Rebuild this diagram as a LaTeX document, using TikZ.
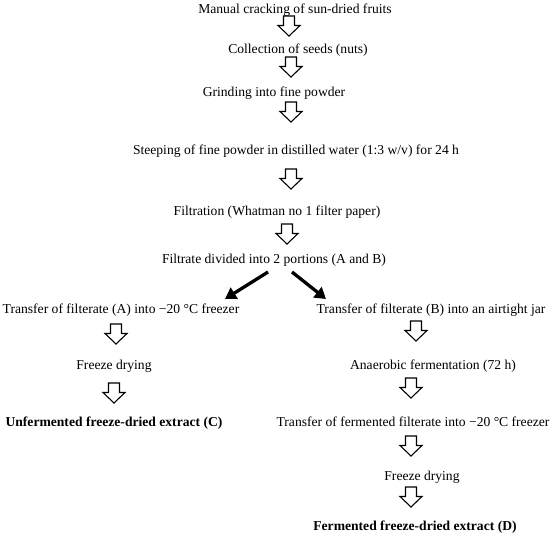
\documentclass[tikz,border=0pt]{standalone}
\usepackage{fontspec}
\setmainfont{Liberation Serif}
\usetikzlibrary{arrows.meta}
\tikzset{
  txt/.style={inner sep=0pt, anchor=base, font=\fontsize{13.6}{15}\selectfont},
  btxt/.style={txt, font=\fontsize{13.6}{15}\selectfont\bfseries},
  harrow/.pic={\draw[line width=1.1pt, line join=miter, fill=white]
     (-5.5,0) -- (5.5,0) -- (5.5,9.5) -- (11,9.5) -- (0,20) -- (-11,9.5) -- (-5.5,9.5) -- cycle;},
  blk/.style={line width=3.3pt, -{Triangle[length=11pt,width=13pt]}}
}
\begin{document}
\begin{tikzpicture}[x=1pt,y=-1pt]
\useasboundingbox (0,0) rectangle (550,538);
% text nodes
\node[txt] (t1) at (295,13.5) {Manual cracking of sun-dried fruits};
\node[txt] (t2) at (298,53.5) {Collection of seeds (nuts)};
\node[txt] (t3) at (274,96.5) {Grinding into fine powder};
\node[txt] (t4) at (296,154.5) {Steeping of fine powder in distilled water (1:3 w/v) for 24 h};
\node[txt] (t5) at (277,215.5) {Filtration (Whatman no 1 filter paper)};
\node[txt] (t6) at (274,263.5) {Filtrate divided into 2 portions (A and B)};
\node[txt] (t7l) at (121,313.5) {Transfer of filterate (A) into −20 °C freezer};
\node[txt] (t7r) at (431,313.5) {Transfer of filterate (B) into an airtight jar};
\node[txt] (t8l) at (114,369.5) {Freeze drying};
\node[txt] (t8r) at (433,369.5) {Anaerobic fermentation (72 h)};
\node[btxt] (t9l) at (114,426.5) {Unfermented freeze-dried extract (C)};
\node[txt] (t9r) at (413,426.5) {Transfer of fermented filterate into −20 °C freezer};
\node[txt] (t10) at (422,480.5) {Freeze drying};
\node[btxt] (t11) at (415,530.5) {Fermented freeze-dried extract (D)};
% hollow block arrows
\pic at (289,16) {harrow};
\pic at (291,57) {harrow};
\pic at (291,102) {harrow};
\pic at (291,169) {harrow};
\pic at (287,224) {harrow};
\pic at (116,324) {harrow};
\pic at (114,383) {harrow};
\pic at (416,321) {harrow};
\pic at (411,378) {harrow};
\pic at (411,436) {harrow};
\pic at (411,487) {harrow};
% black split arrows
\coordinate (bl1) at (268,272);
\coordinate (bl2) at (225,299);
\coordinate (br1) at (292,272);
\coordinate (br2) at (326,299);
\draw[blk] (bl1) -- (bl2);
\draw[blk] (br1) -- (br2);
\end{tikzpicture}
\end{document}
